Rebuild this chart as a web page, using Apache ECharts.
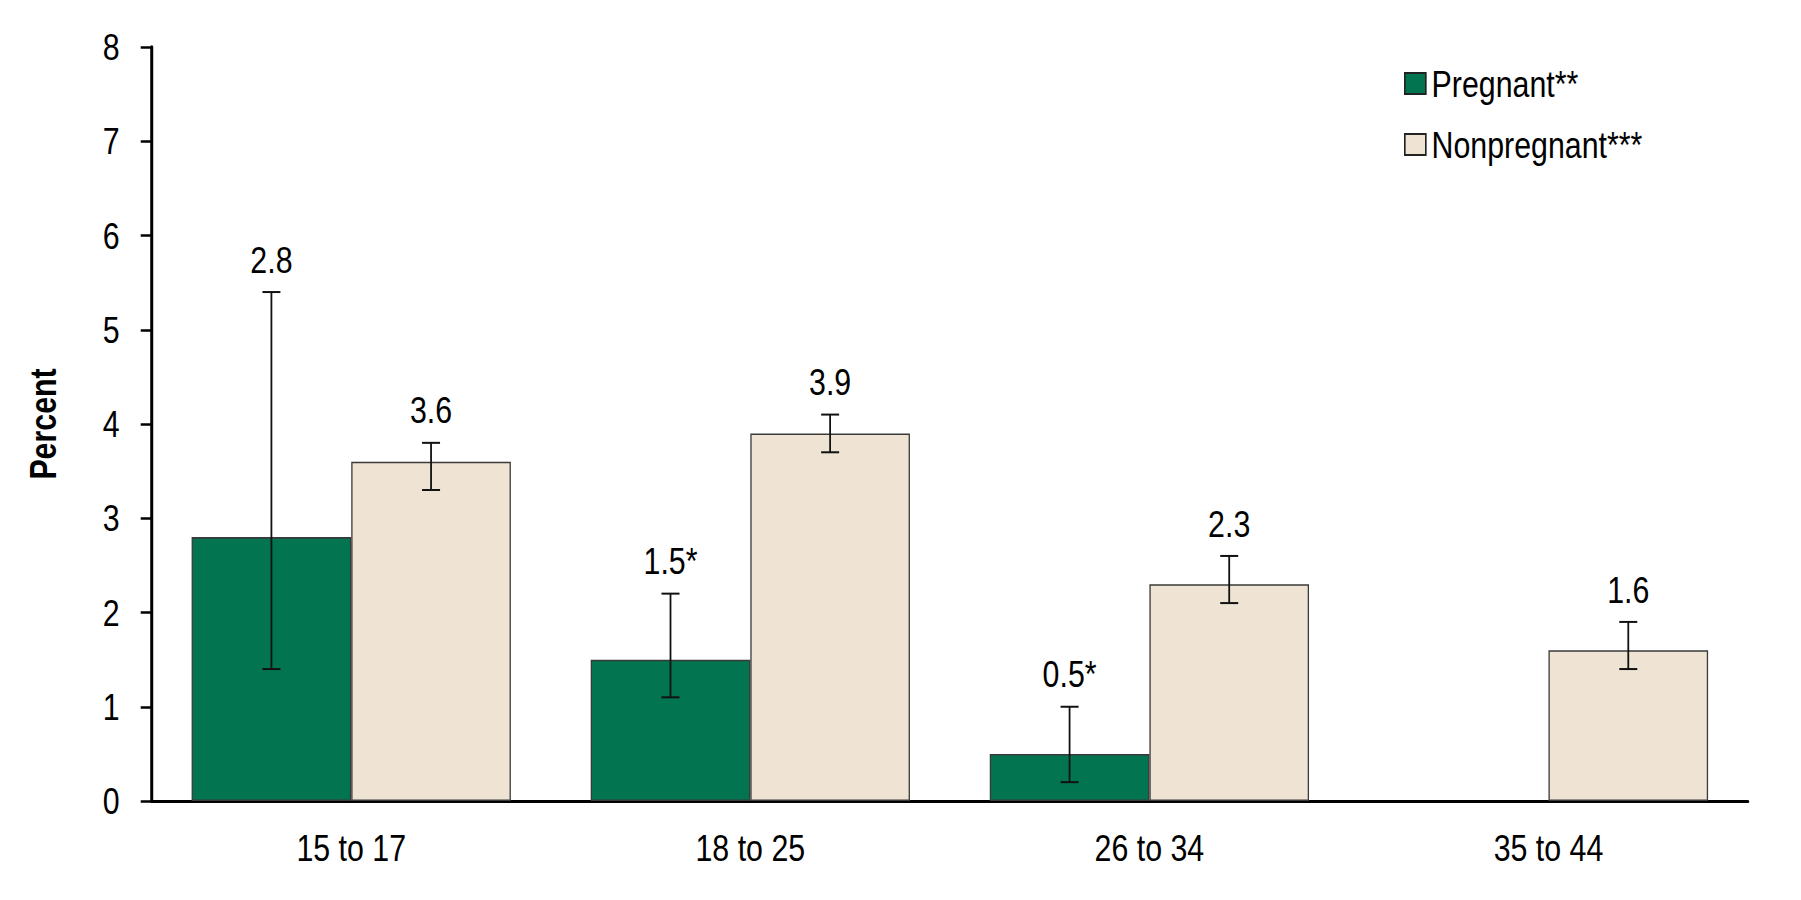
<!DOCTYPE html>
<html>
<head>
<meta charset="utf-8">
<script src="https://cdn.jsdelivr.net/npm/echarts@6/dist/echarts.min.js"></script>
<style>
  html, body { margin: 0; padding: 0; background: #fff; overflow: hidden; width: 1801px; height: 900px; }
  #frame { position: relative; width: 1801px; height: 900px; overflow: hidden; }
  /* The reference uses a condensed Helvetica; emulate it by drawing on a wider
     canvas and condensing the whole chart horizontally. */
  #chart { position: absolute; left: 0; top: 0; width: 2196px; height: 900px;
           transform: scaleX(0.82013); transform-origin: 0 0; }
</style>
</head>
<body>
<div id="frame"><div id="chart"></div></div>
<script>
const categories = ['15 to 17', '18 to 25', '26 to 34', '35 to 44'];
const seriesNames = ['Pregnant**', 'Nonpregnant***'];

const pregnantValues = [2.8, 1.5, 0.5, null];
const pregnantLow = [1.4, 1.1, 0.2, null];
const pregnantHigh = [5.4, 2.2, 1.0, null];
const pregnantLabels = ['2.8', '1.5*', '0.5*', ''];

const nonpregnantValues = [3.6, 3.9, 2.3, 1.6];
const nonpregnantLow = [3.3, 3.7, 2.1, 1.4];
const nonpregnantHigh = [3.8, 4.1, 2.6, 1.9];
const nonpregnantLabels = ['3.6', '3.9', '2.3', '1.6'];

const yTicks = [0, 1, 2, 3, 4, 5, 6, 7, 8];
const yTitle = 'Percent';

const S = 1801 / 2196;           // horizontal condensing factor
const FONT = '"Liberation Sans", Arial, sans-serif';
const FS = 37;
const GREEN = '#027550';
const BEIGE = '#EFE4D3';
const EDGE = '#3a3a3a';
const BAR_FRACTION = 0.4;
const px = v => v / S;           // convert a screen-space horizontal length

function errData(low, high) {
  const out = [];
  for (let i = 0; i < categories.length; i++) {
    if (low[i] == null || high[i] == null) continue;
    out.push([i, low[i], high[i]]);
  }
  return out;
}

function makeErrorRender(sideSign, labels) {
  return function (params, api) {
    const idx = api.value(0);
    const lo = api.coord([idx, api.value(1)]);
    const hi = api.coord([idx, api.value(2)]);
    const catW = api.size([1, 0])[0];
    const x = lo[0] + sideSign * catW * BAR_FRACTION / 2;
    const cap = px(9);
    const stem = { stroke: '#111', lineWidth: px(1.8) };
    const capStyle = { stroke: '#111', lineWidth: 2 };
    return {
      type: 'group',
      children: [
        { type: 'line', shape: { x1: x, y1: hi[1], x2: x, y2: lo[1] }, style: stem },
        { type: 'line', shape: { x1: x - cap, y1: hi[1], x2: x + cap, y2: hi[1] }, style: capStyle },
        { type: 'line', shape: { x1: x - cap, y1: lo[1], x2: x + cap, y2: lo[1] }, style: capStyle },
        {
          type: 'text',
          x: x,
          y: hi[1] - 14,
          style: {
            text: labels[idx],
            align: 'center',
            verticalAlign: 'bottom',
            fill: '#000',
            fontFamily: FONT,
            fontSize: FS
          }
        }
      ]
    };
  };
}

const chart = echarts.init(document.getElementById('chart'), null, { renderer: 'svg' });

chart.setOption({
  backgroundColor: '#ffffff',
  animation: false,
  textStyle: { fontFamily: FONT, color: '#000' },
  grid: { left: px(151.7), right: px(53), top: 47, bottom: 99, containLabel: false },
  legend: {
    orient: 'vertical',
    left: px(1404),
    top: 65,
    padding: 0,
    icon: 'rect',
    itemWidth: px(21),
    itemHeight: 21,
    itemGap: 24,
    data: seriesNames,
    textStyle: { fontFamily: FONT, fontSize: FS, color: '#000', lineHeight: 36, padding: [0, 0, 0, 2] },
    itemStyle: { borderColor: '#222', borderWidth: 2 },
    selectedMode: false
  },
  graphic: [
    {
      type: 'text',
      x: px(43),
      y: 424,
      rotation: Math.PI / 2,
      scaleX: S,
      scaleY: 1 / S,
      style: {
        text: yTitle,
        align: 'center',
        verticalAlign: 'middle',
        fill: '#000',
        fontFamily: FONT,
        fontWeight: 'bold',
        fontSize: FS
      }
    }
  ],
  xAxis: {
    type: 'category',
    data: categories,
    axisLine: { show: true, lineStyle: { color: '#000', width: 3 } },
    axisTick: { show: false },
    axisLabel: { fontFamily: FONT, fontSize: FS, color: '#000', margin: 28 }
  },
  yAxis: {
    type: 'value',
    min: yTicks[0],
    max: yTicks[yTicks.length - 1],
    interval: 1,
    axisLine: { show: true, lineStyle: { color: '#000', width: px(3) } },
    axisTick: { show: true, length: px(11), lineStyle: { color: '#000', width: 2.5 } },
    axisLabel: { fontFamily: FONT, fontSize: FS, color: '#000', margin: px(32) },
    splitLine: { show: false }
  },
  series: [
    {
      name: seriesNames[0],
      type: 'bar',
      data: pregnantValues.map(v => (v == null ? '-' : v)),
      barWidth: (BAR_FRACTION * 100) + '%',
      barGap: '0%',
      itemStyle: { color: GREEN, borderColor: EDGE, borderWidth: 1.6 }
    },
    {
      name: seriesNames[1],
      type: 'bar',
      data: nonpregnantValues,
      barWidth: (BAR_FRACTION * 100) + '%',
      barGap: '0%',
      itemStyle: { color: BEIGE, borderColor: EDGE, borderWidth: 1.6 }
    },
    {
      type: 'custom',
      name: 'errP',
      renderItem: makeErrorRender(-1, pregnantLabels),
      data: errData(pregnantLow, pregnantHigh),
      z: 10,
      silent: true
    },
    {
      type: 'custom',
      name: 'errN',
      renderItem: makeErrorRender(1, nonpregnantLabels),
      data: errData(nonpregnantLow, nonpregnantHigh),
      z: 10,
      silent: true
    }
  ]
});
</script>
</body>
</html>
